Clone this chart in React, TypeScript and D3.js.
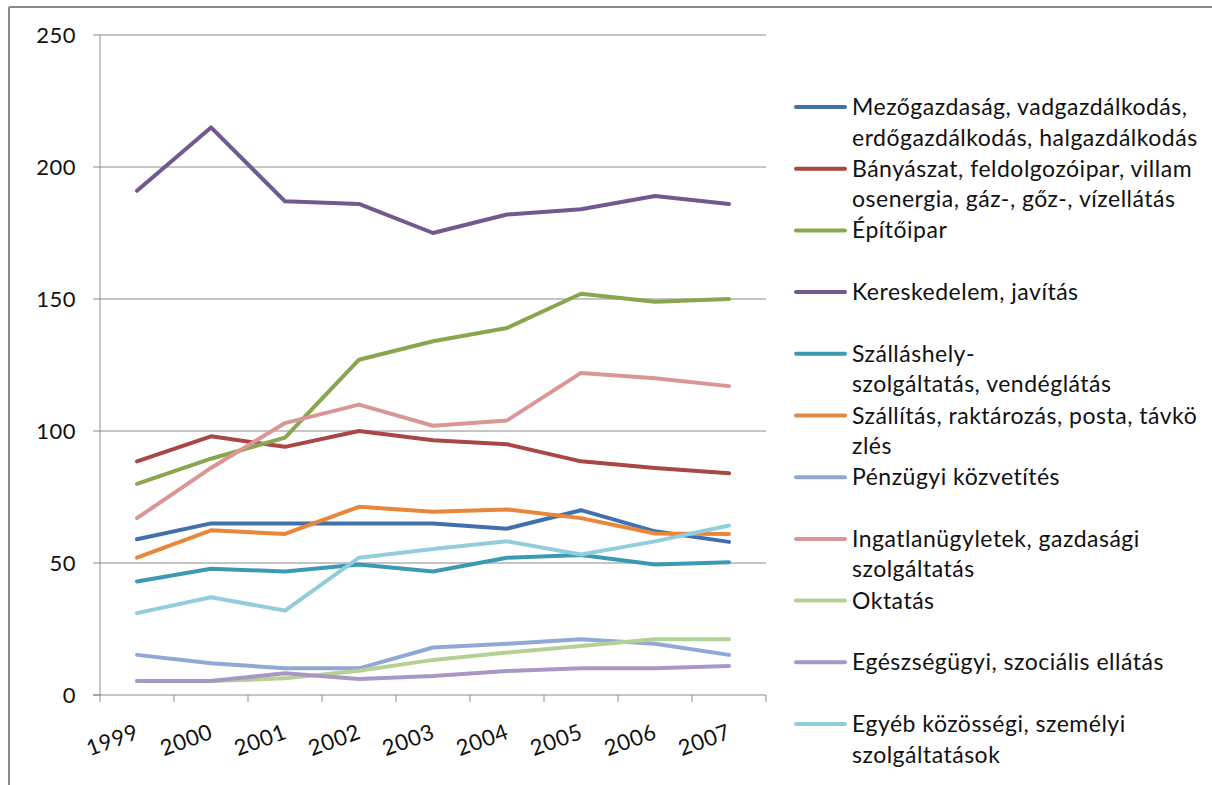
import React from 'react';
import * as d3 from 'd3';

// years on the category axis
const years = ['1999', '2000', '2001', '2002', '2003', '2004', '2005', '2006', '2007'];

// series names, split the way the legend wraps them
const seriesNames = [
  ['Mezőgazdaság, vadgazdálkodás,', 'erdőgazdálkodás, halgazdálkodás'],
  ['Bányászat, feldolgozóipar, villam', 'osenergia, gáz-, gőz-, vízellátás'],
  ['Építőipar'],
  ['Kereskedelem, javítás'],
  ['Szálláshely-', 'szolgáltatás, vendéglátás'],
  ['Szállítás, raktározás, posta, távkö', 'zlés'],
  ['Pénzügyi közvetítés'],
  ['Ingatlanügyletek, gazdasági', 'szolgáltatás'],
  ['Oktatás'],
  ['Egészségügyi, szociális ellátás'],
  ['Egyéb közösségi, személyi', 'szolgáltatások'],
];

const mezogazdasag = [59, 65, 65, 65, 65, 63, 70, 62, 58];
const banyaszat = [88.5, 98, 94, 100, 96.5, 95, 88.5, 86, 84];
const epitoipar = [80, 89.5, 97.5, 127, 134, 139, 152, 149, 150];
const kereskedelem = [191, 215, 187, 186, 175, 182, 184, 189, 186];
const szallashely = [43, 47.8, 46.8, 49.4, 46.8, 52, 53, 49.4, 50.3];
const szallitas = [52, 62.4, 61, 71.3, 69.4, 70.3, 67, 61.2, 61];
const penzugyi = [15.2, 12, 10.1, 10.1, 18, 19.4, 21.1, 19.4, 15.2];
const ingatlan = [67, 86, 103, 110, 102, 104, 122, 120, 117];
const oktatas = [5.3, 5.3, 6.3, 9.2, 13.3, 16.1, 18.6, 21.1, 21.1];
const egeszsegugyi = [5.3, 5.3, 8.2, 6.1, 7.2, 9.1, 10.1, 10.1, 11];
const egyeb = [31, 37, 32, 52, 55.3, 58.2, 53.2, 58.2, 64.2];

const seriesValues = [
  mezogazdasag, banyaszat, epitoipar, kereskedelem, szallashely, szallitas,
  penzugyi, ingatlan, oktatas, egeszsegugyi, egyeb,
];

const colors = [
  '#4270AC', '#AA4643', '#89A54E', '#71588F', '#3A9AB3', '#E8873A',
  '#8FA8D6', '#D99694', '#B5D095', '#A897C5', '#92CDDC',
];

const yTicks = [0, 50, 100, 150, 200, 250];

const W = 1212;
const H = 785;
const FONT = 'Lato, "Open Sans", sans-serif';
const GRID = '#8a8a8a';

export default function App() {
  const left = 100, right = 766, top = 35, bottom = 695;

  const x = d3.scaleBand().domain(years).range([left, right]);
  const y = d3.scaleLinear().domain([0, 250]).range([bottom, top]);

  const line = d3
    .line<number>()
    .x((_, i) => (x(years[i]) as number) + x.bandwidth() / 2)
    .y((d) => y(d));

  const bounds = [...years.map((yr) => x(yr) as number), right];

  // legend rows: one slot per series, fixed step
  const legX = 796, legY = 107, legStep = 61.7, lineGap = 30.5;

  return (
    <svg width={W} height={H} style={{ position: 'absolute', left: 0, top: 0 }} fontFamily={FONT}>
      <rect x={0} y={0} width={W} height={H} fill="#fff" />
      {/* outer chart frame (only top and left show) */}
      <line x1={9} y1={7} x2={W} y2={7} stroke={GRID} strokeWidth={2} />
      <line x1={9} y1={7} x2={9} y2={H} stroke={GRID} strokeWidth={2} />

      {/* gridlines and y ticks */}
      {yTicks.map((t) => (
        <g key={t}>
          {t > 0 && <line x1={left} x2={right} y1={y(t)} y2={y(t)} stroke={GRID} strokeWidth={1} />}
          <line x1={left - 7} x2={left} y1={y(t)} y2={y(t)} stroke={GRID} strokeWidth={1} />
          <text x={76} y={y(t)} dy="0.36em" textAnchor="end" fontSize={22} letterSpacing={0.5} fill="#111">
            {t}
          </text>
        </g>
      ))}

      {/* axes */}
      <line x1={left} x2={left} y1={top} y2={bottom} stroke={GRID} strokeWidth={1} />
      <line x1={left - 7} x2={right} y1={bottom} y2={bottom} stroke={GRID} strokeWidth={1} />
      {bounds.map((b, i) => (
        <line key={i} x1={b} x2={b} y1={bottom} y2={bottom + 7} stroke={GRID} strokeWidth={1} />
      ))}

      {years.map((yr) => {
        const cx = (x(yr) as number) + x.bandwidth() / 2 + 3;
        const cy = 738;
        return (
          <text
            key={yr}
            x={cx}
            y={cy}
            textAnchor="end"
            fontSize={22}
            letterSpacing={0.6}
            fill="#111"
            transform={`rotate(-20 ${cx} ${cy})`}
          >
            {yr}
          </text>
        );
      })}

      {/* series */}
      {seriesValues.map((vals, i) => (
        <path
          key={i}
          d={line(vals) || ''}
          fill="none"
          stroke={colors[i]}
          strokeWidth={4}
          strokeLinejoin="round"
          strokeLinecap="round"
        />
      ))}

      {/* legend */}
      {seriesNames.map((lines, i) => {
        const ly = legY + i * legStep;
        return (
          <g key={i}>
            <line x1={legX} x2={legX + 49} y1={ly} y2={ly} stroke={colors[i]} strokeWidth={4} strokeLinecap="round" />
            {lines.map((s, j) => (
              <text key={j} x={852} y={ly + j * lineGap} dy="0.35em" fontSize={23} letterSpacing={0.5} fill="#111">
                {s}
              </text>
            ))}
          </g>
        );
      })}
    </svg>
  );
}
